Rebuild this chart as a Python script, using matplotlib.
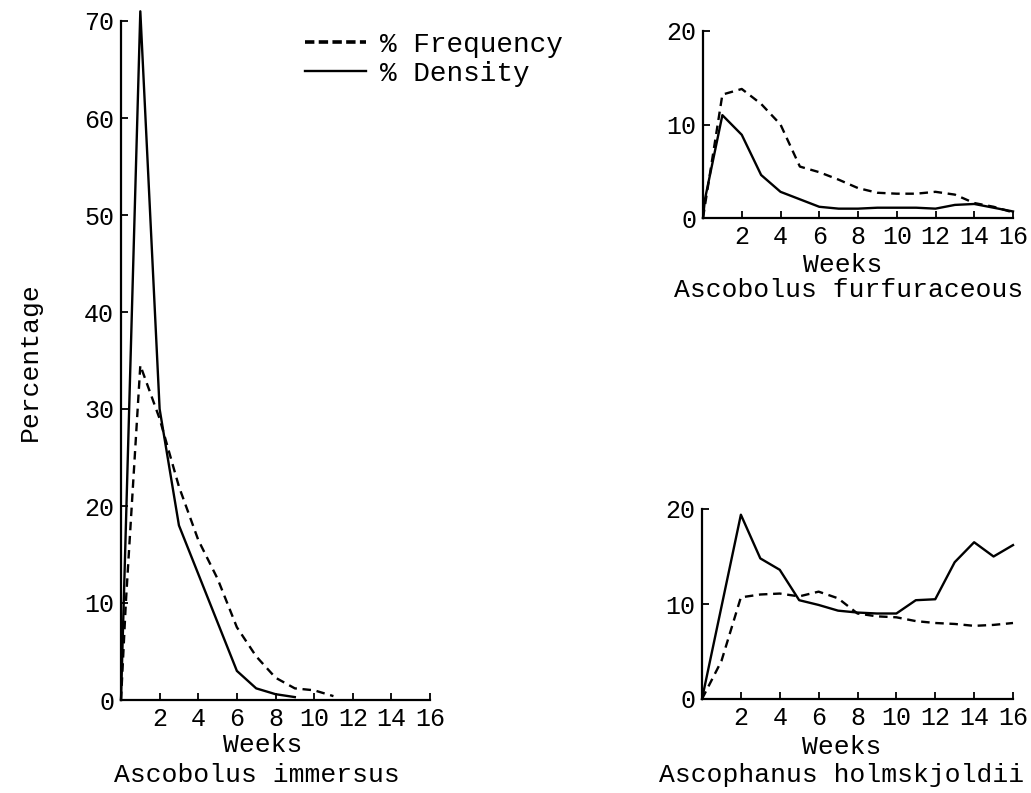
import matplotlib
matplotlib.use("Agg")
import matplotlib.pyplot as plt

plt.rcParams['font.family'] = ['Liberation Mono', 'DejaVu Sans Mono']
plt.rcParams['font.size'] = 19

# Ascobolus immersus
imm_dens_weeks = [0, 1, 2, 3, 4, 5, 6, 7, 8, 9]
imm_dens = [0, 71, 30, 18, 13, 8, 3, 1.2, 0.6, 0.3]
imm_freq_weeks = [0, 0.25, 1, 2, 3, 4, 5, 6, 7, 8, 9, 10, 11]
imm_freq = [0, 10, 34.5, 29, 22, 16.5, 12.5, 7.5, 4.5, 2.3, 1.2, 1.0, 0.4]

# Ascobolus furfuraceous
furf_dens_weeks = [0, 0.1, 1, 2, 3, 4, 5, 6, 7, 8, 9, 10, 11, 12, 13, 14, 15, 16]
furf_dens = [0, 2, 11, 8.9, 4.6, 2.8, 2.0, 1.2, 1.0, 1.0, 1.1, 1.1, 1.1, 1.0, 1.4, 1.5, 1.1, 0.7]
furf_freq_weeks = [0, 1, 2, 3, 4, 5, 6, 7, 8, 9, 10, 11, 12, 13, 14, 15, 16]
furf_freq = [0, 13.2, 13.8, 12.2, 10.0, 5.5, 4.9, 4.1, 3.2, 2.7, 2.6, 2.6, 2.8, 2.5, 1.6, 1.2, 0.6]

# Ascophanus holmskjoldii
holm_weeks = list(range(17))
holm_dens = [0, 9.7, 19.4, 14.8, 13.6, 10.4, 9.9, 9.3, 9.1, 9.0, 9.0, 10.4, 10.5, 14.4, 16.5, 15.0, 16.2]
holm_freq = [0, 4, 10.7, 11.0, 11.1, 10.8, 11.3, 10.6, 9.0, 8.7, 8.6, 8.2, 8.0, 7.9, 7.7, 7.8, 8.0]

week_ticks = [2, 4, 6, 8, 10, 12, 14, 16]

W, H = 1031, 793
fig = plt.figure(figsize=(W / 100, H / 100), dpi=100)


def px_axes(x0, y0, x1, y1):
    # pixel box (left, bottom-of-zero, right, top) -> figure fraction
    return fig.add_axes([x0 / W, 1 - y0 / H, (x1 - x0) / W, (y0 - y1) / H])


def style(ax, ymax, yticks):
    ax.set_xlim(0, 16)
    ax.set_ylim(0, ymax)
    ax.set_xticks(week_ticks)
    ax.set_yticks(yticks)
    for s in ['top', 'right']:
        ax.spines[s].set_visible(False)
    for s in ['left', 'bottom']:
        ax.spines[s].set_linewidth(1.6)
    ax.tick_params(direction='in', length=5, width=1.3, pad=5, labelsize=18)
    ax.patch.set_alpha(0)


dash = dict(color='black', lw=1.7, dashes=(3.6, 2.4), clip_on=False)
solid = dict(color='black', lw=1.7, clip_on=False)

ax1 = px_axes(121, 700, 430, 21)
style(ax1, 70, range(0, 71, 10))
ax1.plot(imm_freq_weeks, imm_freq, label='% Frequency', **dash)
ax1.plot(imm_dens_weeks, imm_dens, label='% Density', **solid)
ax1.text(0.46, -0.066, 'Weeks', transform=ax1.transAxes, ha='center', va='center')
ax1.text(0.44, -0.111, 'Ascobolus immersus', transform=ax1.transAxes, ha='center', va='center')
leg = ax1.legend(loc='upper left', bbox_to_anchor=(280 / W, 1 - 7 / H), bbox_transform=fig.transFigure,
                 frameon=False, handlelength=2.2, labelspacing=0.1, handletextpad=0.5, fontsize=20)
leg.get_lines()[0].set_linewidth(2.6)
leg.get_lines()[0].set_dashes((2.6, 1.2))

ax2 = px_axes(703, 218, 1013, 31)
style(ax2, 20, [0, 10, 20])
ax2.plot(furf_freq_weeks, furf_freq, **dash)
ax2.plot(furf_dens_weeks, furf_dens, **solid)
ax2.text(0.45, -0.25, 'Weeks', transform=ax2.transAxes, ha='center', va='center')
ax2.text(0.471, -0.385, 'Ascobolus furfuraceous', transform=ax2.transAxes, ha='center', va='center')

ax3 = px_axes(702, 699, 1013, 509)
style(ax3, 20, [0, 10, 20])
ax3.plot(holm_weeks, holm_freq, **dash)
ax3.plot(holm_weeks, holm_dens, **solid)
ax3.text(0.45, -0.25, 'Weeks', transform=ax3.transAxes, ha='center', va='center')
ax3.text(0.45, -0.40, 'Ascophanus holmskjoldii', transform=ax3.transAxes, ha='center', va='center')

fig.text(30 / W, 1 - 362 / H, 'Percentage', rotation=90, ha='center', va='center')

fig.savefig('out.png', dpi=100)
